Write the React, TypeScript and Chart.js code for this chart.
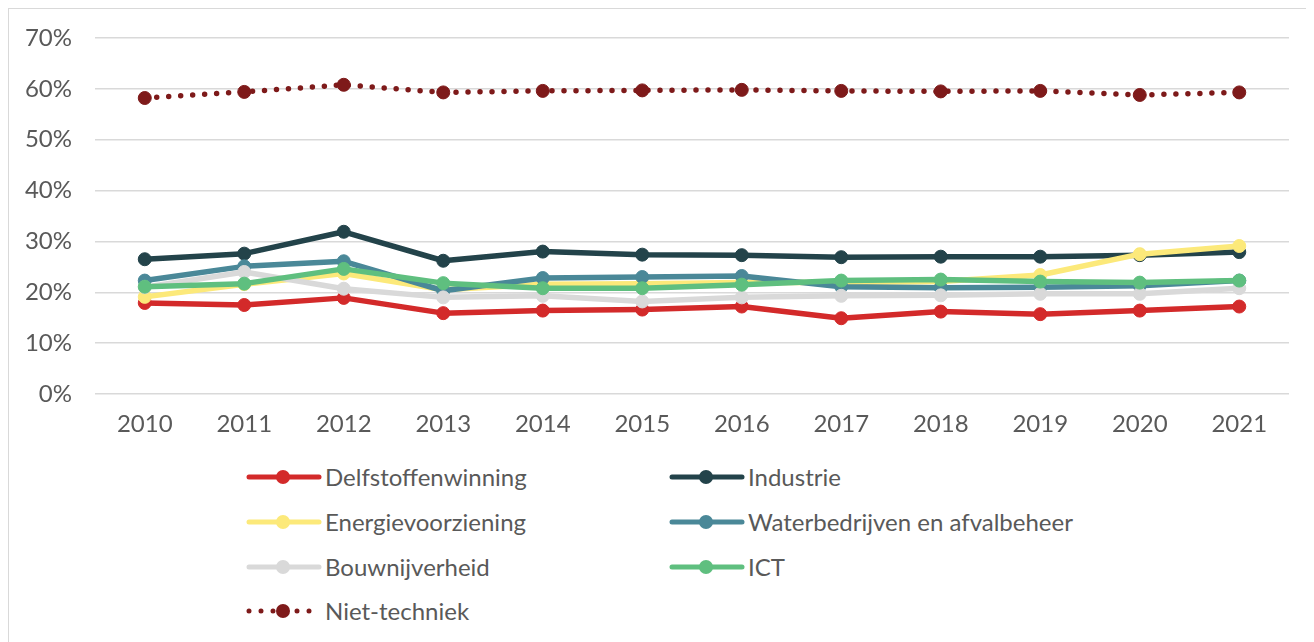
import React, { useEffect, useRef } from "react";
import { Chart, registerables } from "chart.js";

Chart.register(...registerables);

const years = ["2010", "2011", "2012", "2013", "2014", "2015", "2016", "2017", "2018", "2019", "2020", "2021"];

const delfstoffenwinning = [17.9, 17.5, 18.9, 15.9, 16.4, 16.6, 17.2, 14.9, 16.2, 15.7, 16.4, 17.2];
const industrie = [26.5, 27.6, 31.9, 26.2, 28.0, 27.4, 27.3, 26.9, 27.0, 27.0, 27.3, 27.9];
const energievoorziening = [19.1, 21.6, 23.7, 20.5, 21.6, 21.7, 21.9, 21.9, 22.1, 23.4, 27.5, 29.1];
const waterbedrijven = [22.3, 25.1, 26.1, 20.3, 22.8, 23.0, 23.2, 21.1, 20.9, 21.0, 21.3, 22.3];
const bouwnijverheid = [21.0, 24.0, 20.7, 19.0, 19.3, 18.2, 19.0, 19.3, 19.4, 19.7, 19.7, 20.8];
const ict = [21.1, 21.7, 24.6, 21.8, 20.8, 20.8, 21.5, 22.3, 22.5, 22.1, 21.9, 22.3];
const nietTechniek = [58.2, 59.4, 60.8, 59.3, 59.6, 59.7, 59.8, 59.6, 59.5, 59.6, 58.8, 59.3];

const yTicks = [0, 10, 20, 30, 40, 50, 60, 70];

const seriesNames = [
  "Delfstoffenwinning",
  "Industrie",
  "Energievoorziening",
  "Waterbedrijven en afvalbeheer",
  "Bouwnijverheid",
  "ICT",
  "Niet-techniek",
];
const seriesData = [delfstoffenwinning, industrie, energievoorziening, waterbedrijven, bouwnijverheid, ict, nietTechniek];
const seriesColors = ["#D32A2A", "#23434A", "#FCE97A", "#4A8898", "#D9D9D9", "#5FBF7F", "#7E1A1A"];

const FONT = "Lato, 'Open Sans', sans-serif";
const TEXT = "#595959";

function Swatch({ color, dotted }: { color: string; dotted: boolean }) {
  return (
    <svg width={76} height={20} style={{ display: "block" }}>
      {dotted ? (
        <>
          <line x1={3} y1={10} x2={73} y2={10} stroke={color} strokeWidth={5} strokeLinecap="round" strokeDasharray="0 12" />
          <circle cx={37} cy={10} r={7} fill={color} />
        </>
      ) : (
        <>
          <line x1={3} y1={10} x2={73} y2={10} stroke={color} strokeWidth={5} strokeLinecap="round" />
          <circle cx={37} cy={10} r={7} fill={color} />
        </>
      )}
    </svg>
  );
}

export default function App() {
  const canvasRef = useRef<HTMLCanvasElement | null>(null);

  useEffect(() => {
    if (!canvasRef.current) return;
    const datasets = seriesNames.map((name, i) => {
      const dotted = i === 6;
      return {
        label: name,
        data: seriesData[i],
        borderColor: seriesColors[i],
        backgroundColor: seriesColors[i],
        pointBackgroundColor: seriesColors[i],
        pointBorderColor: seriesColors[i],
        borderWidth: 5.5,
        pointRadius: 6.5,
        pointBorderWidth: 1,
        pointHoverRadius: 6.5,
        tension: 0,
        borderJoinStyle: "round" as const,
        borderCapStyle: "round" as const,
        borderDash: dotted ? [0, 12] : [],
        order: 6 - i,
        fill: false,
      };
    });

    const chart = new Chart(canvasRef.current, {
      type: "line",
      data: { labels: years, datasets },
      options: {
        animation: false,
        responsive: true,
        maintainAspectRatio: false,
        layout: { padding: { top: 29, right: 25, left: 0, bottom: 0 } },
        plugins: {
          legend: { display: false },
          tooltip: { enabled: false },
        },
        scales: {
          x: {
            offset: true,
            grid: { display: false, drawTicks: false },
            border: { display: false },
            ticks: {
              color: TEXT,
              font: { family: FONT, size: 24 },
              padding: 16,
              maxRotation: 0,
            },
            afterFit: (scale: any) => {
              scale.height = 65;
              scale.paddingLeft = 0;
              scale.paddingRight = 0;
            },
          },
          y: {
            min: 0,
            max: 70,
            afterBuildTicks: (scale: any) => {
              scale.ticks = yTicks.map((v) => ({ value: v }));
            },
            grid: { color: "#D9D9D9", lineWidth: 1.5, drawTicks: false },
            border: { display: false },
            ticks: {
              color: TEXT,
              font: { family: FONT, size: 24 },
              padding: 23,
              callback: (v: any) => v + "%",
            },
            afterFit: (scale: any) => {
              scale.width = 86;
              scale.paddingTop = 0;
              scale.paddingBottom = 0;
            },
          },
        },
      },
    });
    return () => chart.destroy();
  }, []);

  const rows = [
    [0, 1],
    [2, 3],
    [4, 5],
    [6],
  ];

  return (
    <div
      style={{
        position: "relative",
        width: 1306,
        height: 634,
        boxSizing: "border-box",
        borderLeft: "1px solid #D9D9D9",
        borderTop: "1px solid #D9D9D9",
        fontFamily: FONT,
        overflow: "hidden",
      }}
    >
      <div style={{ position: "absolute", left: 0, top: 0, width: 1305, height: 450 }}>
        <canvas ref={canvasRef} />
      </div>
      {rows.map((row, r) =>
        row.map((si, c) => (
          <div
            key={si}
            style={{
              position: "absolute",
              left: c === 0 ? 237 : 660,
              top: 477 - 9 + r * 44.8 - 13,
              height: 26,
              display: "flex",
              alignItems: "center",
              whiteSpace: "nowrap",
            }}
          >
            <Swatch color={seriesColors[si]} dotted={si === 6} />
            <span style={{ marginLeft: 3, fontSize: 24, color: TEXT, lineHeight: "26px" }}>{seriesNames[si]}</span>
          </div>
        ))
      )}
    </div>
  );
}
